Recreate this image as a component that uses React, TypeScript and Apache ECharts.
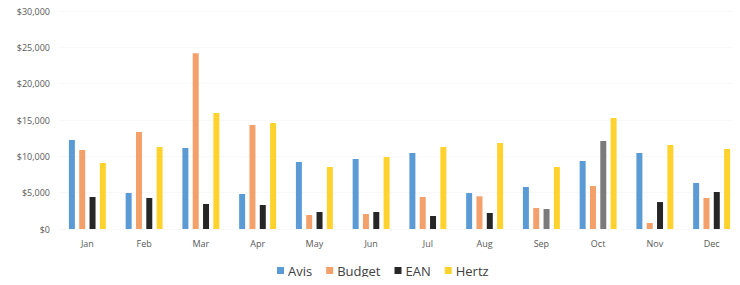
import React, { useEffect, useRef } from "react";
import * as echarts from "echarts";

const months = ["Jan", "Feb", "Mar", "Apr", "May", "Jun", "Jul", "Aug", "Sep", "Oct", "Nov", "Dec"];
const avis = [12250, 4950, 11150, 4820, 9220, 9630, 10460, 4950, 5780, 9360, 10460, 6330];
const budget = [10870, 13350, 24200, 14310, 1930, 2060, 4400, 4500, 2890, 5920, 830, 4270];
const ean = [4400, 4270, 3440, 3300, 2340, 2340, 1790, 2200, 2750, 12110, 3710, 5090];
const hertz = [9080, 11280, 15960, 14590, 8530, 9900, 11280, 11830, 8530, 15270, 11560, 11010];
const eanGrayMonths = ["Sep", "Oct"];

export default function App() {
  const ref = useRef<HTMLDivElement>(null);
  useEffect(() => {
    if (!ref.current) return;
    const chart = echarts.init(ref.current, undefined, { renderer: "svg" });
    const font = "'Open Sans', 'Noto Sans', sans-serif";
    chart.setOption({
      animation: false,
      textStyle: { fontFamily: font },
      grid: { left: 59, top: 11, width: 690, bottom: 56, containLabel: false },
      legend: {
        bottom: 3,
        left: 272,
        itemWidth: 7,
        itemHeight: 7,
        itemGap: 14,
        icon: "rect",
        textStyle: { fontSize: 13, color: "#404040", fontFamily: font, padding: [0, 0, 0, -1] },
        data: ["Avis", "Budget", "EAN", "Hertz"],
      },
      xAxis: {
        type: "category",
        data: months,
        axisLine: { show: false },
        axisTick: { show: false },
        axisLabel: { color: "#595959", fontSize: 9, margin: 10 },
      },
      yAxis: {
        type: "value",
        min: 0,
        max: 30000,
        interval: 5000,
        splitLine: { show: true, lineStyle: { color: "#f8f8f8" } },
        axisLabel: {
          color: "#595959",
          fontSize: 9,
          margin: 9,
          formatter: (v: number) => "$" + v.toLocaleString("en-US"),
        },
      },
      series: [
        { name: "Avis", type: "bar", data: avis, barWidth: 6, barGap: "72%", itemStyle: { color: "#5b9bd5" } },
        { name: "Budget", type: "bar", data: budget, barWidth: 6, barGap: "72%", itemStyle: { color: "#f4a06a" } },
        {
          name: "EAN",
          type: "bar",
          data: ean.map((v, i) => ({
            value: v,
            itemStyle: { color: eanGrayMonths.includes(months[i]) ? "#7b7b7b" : "#262626" },
          })),
          barWidth: 6,
          barGap: "72%",
          itemStyle: { color: "#262626" },
        },
        { name: "Hertz", type: "bar", data: hertz, barWidth: 6, barGap: "72%", itemStyle: { color: "#ffd22e" } },
      ],
    });
    return () => chart.dispose();
  }, []);
  return <div ref={ref} style={{ width: 740, height: 285, margin: -8 }} />;
}
